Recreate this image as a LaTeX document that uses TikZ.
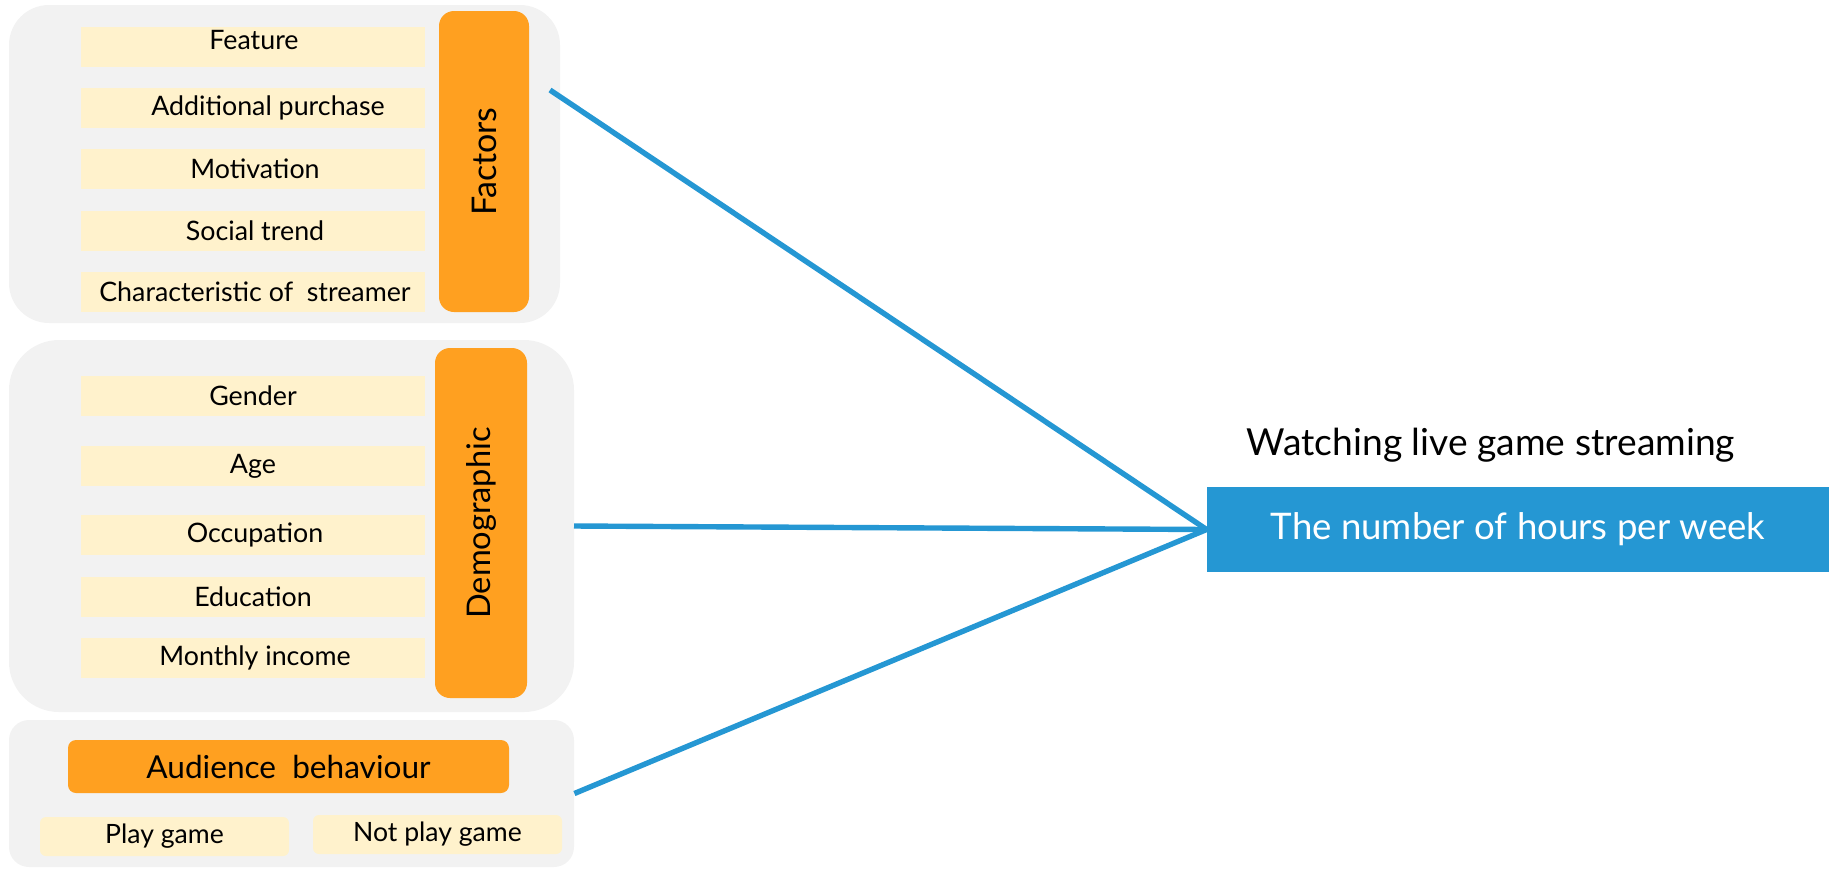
\documentclass[tikz,border=0pt]{standalone}
\usepackage{fontspec}
\setmainfont{Lato}
\definecolor{greybg}{HTML}{F2F2F2}
\definecolor{itemyel}{HTML}{FFF2CC}
\definecolor{orangeh}{HTML}{FFA020}
\definecolor{blueh}{HTML}{2597D3}
\tikzset{
  group/.style={fill=greybg, draw=none, inner sep=0pt},
  item/.style={fill=itemyel, draw=none, inner sep=0pt, minimum width=172pt, minimum height=20pt, font=\fontsize{13.4pt}{16pt}\selectfont},
  header/.style={fill=orangeh, draw=none, inner sep=0pt, rounded corners=7.5pt, font=\fontsize{17pt}{20pt}\selectfont},
  pill/.style={fill=itemyel, draw=none, inner sep=0pt, rounded corners=3pt, minimum width=124.5pt, minimum height=19.5pt, font=\fontsize{13.3pt}{16pt}\selectfont},
  link/.style={draw=blueh, line width=2.7pt}
}
\begin{document}
\begin{tikzpicture}[x=0.5pt, y=-0.5pt]
\useasboundingbox (0,0) rectangle (1831,869);
% groups
\node[group, rounded corners=20pt, minimum width=275.5pt, minimum height=159pt] (g1) at (284.5,164) {};
\node[group, rounded corners=25pt, minimum width=282.5pt, minimum height=186pt] (g2) at (291.5,526) {};
\node[group, rounded corners=10pt, minimum width=282.5pt, minimum height=73.5pt] (g3) at (291.5,793.5) {};
% factors
\node[header, minimum width=45pt, minimum height=150.5pt] (fac) at (484,161.5) {\rotatebox{90}{Factors}};
\node[item] (f1) at (253,47) {\hspace*{1pt}\raisebox{7pt}{Feature}};
\node[item] (f2) at (253,108) {\hspace*{15pt}Additional purchase};
\node[item] (f3) at (253,169) {\hspace*{2pt}Motivation};
\node[item] (f4) at (253,231) {\hspace*{2pt}Social trend};
\node[item] (f5) at (253,292) {\hspace*{2pt}Characteristic of\ \ streamer};
% demographic
\node[header, minimum width=46pt, minimum height=175pt, font=\fontsize{16.3pt}{20pt}\selectfont] (dem) at (481,523) {\rotatebox{90}{Demographic}};
\node[item] (d1) at (253,396) {Gender};
\node[item] (d2) at (253,466) {Age};
\node[item] (d3) at (253,535) {\hspace*{2pt}Occupation};
\node[item] (d4) at (253,597) {Education};
\node[item] (d5) at (253,658) {\hspace*{2pt}Monthly income};
% audience
\node[header, rounded corners=4pt, minimum width=220.5pt, minimum height=26.5pt, font=\fontsize{15.8pt}{18pt}\selectfont] (aud) at (288.5,766.5) {Audience\ \ behaviour};
\node[pill] (p1) at (164.5,836.5) {Play game};
\node[pill] (p2) at (437.5,834.5) {Not play game};
% outcome
\node[font=\fontsize{18.6pt}{22pt}\selectfont, inner sep=0pt] (watch) at (1491,445) {Watching live game streaming};
\node[fill=blueh, inner sep=0pt, minimum width=311pt, minimum height=42.5pt, text=white, font=\fontsize{18.3pt}{22pt}\selectfont] (out) at (1518,529.5) {The number of hours per week};
% connectors
\coordinate (s1) at (550,90);
\coordinate (s2) at (574,526);
\draw[link] (s1) -- (out.west);
\draw[link] (s2) -- (out.west);
\draw[link] (g3.east) -- (out.west);
\end{tikzpicture}
\end{document}
